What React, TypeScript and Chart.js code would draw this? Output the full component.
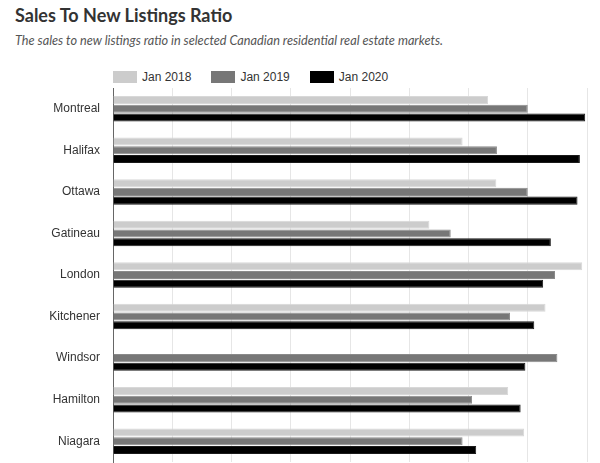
import React, { useEffect, useRef } from "react";
import { Chart, registerables } from "chart.js";

Chart.register(...registerables);

const categories = ["Montreal", "Halifax", "Ottawa", "Gatineau", "London", "Kitchener", "Windsor", "Hamilton", "Niagara"];
const seriesNames = ["Jan 2018", "Jan 2019", "Jan 2020"];
const jan2018 = [0.633, 0.59, 0.647, 0.534, 0.792, 0.73, null, 0.667, 0.694];
const jan2019 = [0.70, 0.648, 0.70, 0.57, 0.746, 0.67, 0.75, 0.606, 0.59];
const jan2020 = [0.797, 0.788, 0.784, 0.739, 0.726, 0.711, 0.696, 0.688, 0.613];
const seriesColors = ["#cccccc", "#777777", "#000000"];
const seriesBorders = ["#d8d8d8", "#8a8a8a", "#1a1a1a"];

export default function App() {
  const ref = useRef<HTMLCanvasElement | null>(null);

  useEffect(() => {
    if (!ref.current) return;
    const values = [jan2018, jan2019, jan2020];
    const chart = new Chart(ref.current, {
      type: "bar",
      data: {
        labels: categories,
        datasets: seriesNames.map((name, i) => ({
          label: name,
          data: values[i],
          backgroundColor: seriesColors[i],
          borderColor: seriesBorders[i],
          borderWidth: 1,
          categoryPercentage: 0.63,
          barPercentage: 0.92,
        })),
      },
      options: {
        indexAxis: "y",
        animation: false,
        responsive: false,
        devicePixelRatio: 1,
        layout: { padding: { left: 0, right: 13, top: 4, bottom: 1 } },
        plugins: {
          legend: { display: false },
          title: { display: false },
          tooltip: { enabled: false },
        },
        scales: {
          x: {
            min: 0,
            max: 0.8,
            ticks: { display: false, stepSize: 0.1 },
            grid: { color: "#e6e6e6", lineWidth: 1, drawTicks: false },
            border: { display: false },
          },
          y: {
            afterFit: (scale: any) => {
              scale.width = 113;
              scale.paddingTop = 0;
              scale.paddingBottom = 0;
            },
            ticks: {
              color: "#333333",
              padding: 13,
              font: { family: "'Liberation Sans', Arial, sans-serif", size: 12 },
            },
            grid: { display: false, drawTicks: false },
            border: { display: true, color: "#666666", width: 1 },
          },
        },
      },
    });
    return () => chart.destroy();
  }, []);

  return (
    <div style={{ position: "absolute", left: 0, top: 0, width: 600, height: 463, background: "#fff", overflow: "hidden" }}>
      <div
        style={{
          position: "absolute",
          left: 15,
          top: 6,
          fontFamily: "Lato, sans-serif",
          fontWeight: 700,
          fontSize: 18,
          lineHeight: "18px",
          color: "#333333",
          whiteSpace: "nowrap",
        }}
      >
        Sales To New Listings Ratio
      </div>
      <div
        style={{
          position: "absolute",
          left: 15,
          top: 34,
          fontFamily: "Lato, sans-serif",
          fontStyle: "italic",
          fontSize: 12.7,
          lineHeight: "12.7px",
          color: "#555555",
          whiteSpace: "nowrap",
        }}
      >
        The sales to new listings ratio in selected Canadian residential real estate markets.
      </div>
      <div
        style={{
          position: "absolute",
          left: 113,
          top: 71,
          display: "flex",
          alignItems: "center",
          fontFamily: "'Liberation Sans', Arial, sans-serif",
          fontSize: 12,
          lineHeight: "12px",
          color: "#333333",
          whiteSpace: "nowrap",
        }}
      >
        {seriesNames.map((name, i) => (
          <div key={name} style={{ display: "flex", alignItems: "center", marginRight: 20 }}>
            <span style={{ display: "inline-block", width: 24, height: 12, background: seriesColors[i], marginRight: 5 }} />
            <span>{name}</span>
          </div>
        ))}
      </div>
      <canvas ref={ref} width={600} height={379} style={{ position: "absolute", left: 0, top: 84, width: 600, height: 379 }} />
    </div>
  );
}
